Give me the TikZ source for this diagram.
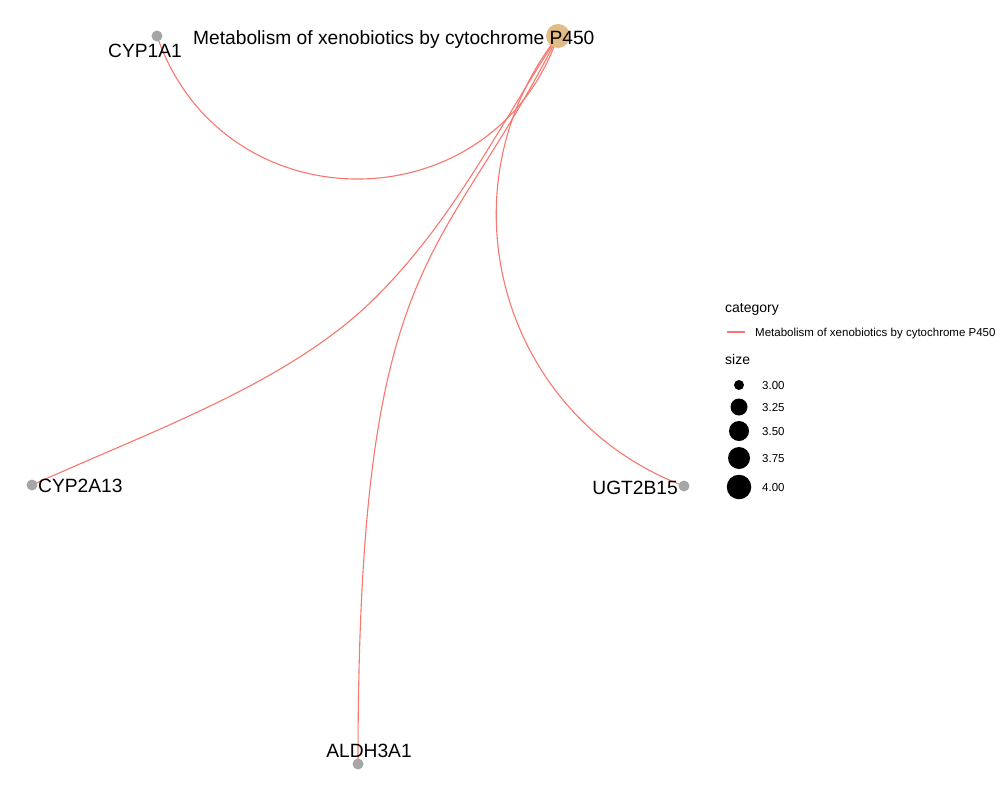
\documentclass[tikz,border=0pt]{standalone}
\usepackage{fontspec}
\setmainfont{Liberation Sans}
\definecolor{edgered}{RGB}{248,118,109}
\definecolor{nodegrey}{RGB}{166,166,166}
\definecolor{cattan}{RGB}{226,187,135}
\pgfdeclarelayer{bg}
\pgfsetlayers{bg,main}
\tikzset{
  gene/.style={circle, fill=nodegrey, minimum size=11pt, inner sep=0pt},
  cat/.style={circle, fill=cattan, minimum size=24pt, inner sep=0pt},
  lab/.style={inner sep=0pt, font=\fontsize{19.2}{19.2}\selectfont},
  edge/.style={draw=edgered, line width=1.1pt},
  legtitle/.style={inner sep=0pt, anchor=base west, font=\fontsize{14}{14}\selectfont},
  legtext/.style={inner sep=0pt, anchor=base west, font=\fontsize{11.5}{11.5}\selectfont},
  legdot/.style={circle, fill=black, inner sep=0pt},
}
\begin{document}
\begin{tikzpicture}[x=1pt, y=-1pt]
\useasboundingbox (0,0) rectangle (1000,800);
% nodes
\node[cat]  (p450)    at (558,36) {};
\node[gene] (cyp1a1)  at (157,36) {};
\node[gene] (cyp2a13) at (32,485) {};
\node[gene] (ugt2b15) at (684,486) {};
\node[gene] (aldh3a1) at (358,764) {};
\coordinate (mcyp) at (376,297);
% edges
\begin{pgfonlayer}{bg}
\draw[edge] (p450.center) .. controls (492.4,226.7) and (222.6,226.7) .. (cyp1a1.center);
\draw[edge] (p450.center) .. controls (498,128.2) and (453.8,219.2) .. (mcyp)
                          .. controls (291.2,381.8) and (156.7,428.8) .. (cyp2a13.center);
\draw[edge] (p450.center) .. controls (441.8,268.4) and (358,244) .. (aldh3a1.center);
\draw[edge] (p450.center) .. controls (437.4,190.2) and (500.8,416.9) .. (ugt2b15.center);
\end{pgfonlayer}
% labels
\node[lab, anchor=base west] (lp450) at (193,45) {Metabolism of xenobiotics by cytochrome P450};
\node[lab, anchor=base] (lcyp1a1) at (145,57) {CYP1A1};
\node[lab, anchor=base west] (lcyp2a13) at (38,492.5) {CYP2A13};
\node[lab, anchor=base east] (lugt) at (678,494.5) {UGT2B15};
\node[lab, anchor=base] (laldh) at (369,757.5) {ALDH3A1};
% legend
\node[legtitle] (lgcat) at (725,312) {category};
\coordinate (lgl1) at (727,332);
\coordinate (lgl2) at (745,332);
\draw[edge] (lgl1) -- (lgl2);
\node[legtext] (lgcattext) at (755,336) {Metabolism of xenobiotics by cytochrome P450};
\node[legtitle] (lgsize) at (725,364) {size};
\node[legdot, minimum size=10pt]   (d1) at (739,385) {};
\node[legdot, minimum size=17pt]   (d2) at (739,407) {};
\node[legdot, minimum size=20pt]   (d3) at (739,431) {};
\node[legdot, minimum size=22pt]   (d4) at (739,458) {};
\node[legdot, minimum size=24.5pt] (d5) at (739,487) {};
\node[legtext] (t1) at (762,389) {3.00};
\node[legtext] (t2) at (762,411) {3.25};
\node[legtext] (t3) at (762,435) {3.50};
\node[legtext] (t4) at (762,462) {3.75};
\node[legtext] (t5) at (762,491) {4.00};
\end{tikzpicture}
\end{document}
